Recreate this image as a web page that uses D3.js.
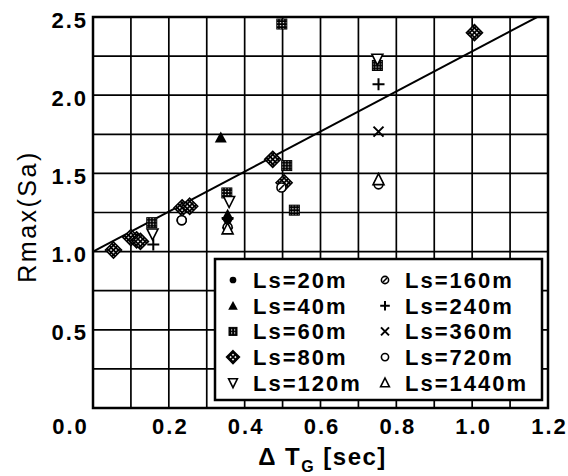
<!DOCTYPE html>
<html>
<head>
<meta charset="utf-8">
<script src="https://cdn.jsdelivr.net/npm/d3@7"></script>
<style>
  body { margin: 0; background: #fff; }
  svg { display: block; }
  text { font-family: "Liberation Sans", Arial, Helvetica, sans-serif; fill: #000; }
</style>
</head>
<body>
<div id="chart"></div>
<script>
// axis ticks
const xTicks = [0.0, 0.2, 0.4, 0.6, 0.8, 1.0, 1.2]
const yTicks = [0.5, 1.0, 1.5, 2.0, 2.5]

// fitted line Rmax = a + b * dT
const fitIntercept = 1.0
const fitSlope = 1.28

// series names and marker kinds (same order)
const seriesNames = ["Ls=20m", "Ls=40m", "Ls=60m", "Ls=80m", "Ls=120m",
                     "Ls=160m", "Ls=240m", "Ls=360m", "Ls=720m", "Ls=1440m"]
const seriesMarks = ["dot", "tri", "sq", "dia", "tridown",
                     "slash", "plus", "cross", "circle", "triup"]

// points [dT, Rmax] per series
const ls20 = [[0.355, 1.20]]
const ls40 = [[0.337, 1.73], [0.355, 1.235]]
const ls60 = [[0.155, 1.185], [0.353, 1.375], [0.498, 2.455], [0.511, 1.55], [0.531, 1.265], [0.750, 2.19]]
const ls80 = [[0.054, 1.01], [0.100, 1.09], [0.115, 1.075], [0.125, 1.065], [0.235, 1.28], [0.255, 1.29],
              [0.474, 1.59], [0.504, 1.44], [1.006, 2.40]]
const ls120 = [[0.157, 1.113], [0.359, 1.32], [0.750, 2.23]]
const ls160 = [[0.234, 1.20], [0.497, 1.41]]
const ls240 = [[0.159, 1.045], [0.355, 1.215], [0.753, 2.07]]
const ls360 = [[0.355, 1.18], [0.753, 1.767]]
const ls720 = [[0.234, 1.20], [0.355, 1.155], [0.753, 1.43]]
const ls1440 = [[0.355, 1.145], [0.753, 1.46]]
const seriesData = [ls20, ls40, ls60, ls80, ls120, ls160, ls240, ls360, ls720, ls1440]

const W = 568, H = 476
const pLeft = 93, pRight = 548, pTop = 17, pBottom = 408

const svg = d3.select("#chart").append("svg").attr("width", W).attr("height", H)

// patterns for the square and diamond markers
const defs = svg.append("defs")
const pDots = defs.append("pattern").attr("id", "pdots").attr("patternUnits", "userSpaceOnUse")
    .attr("width", 3).attr("height", 3)
pDots.append("rect").attr("width", 3).attr("height", 3).attr("fill", "#000")
pDots.append("rect").attr("x", 1).attr("y", 1).attr("width", 1.2).attr("height", 1.2).attr("fill", "#fff")
const pChk = defs.append("pattern").attr("id", "pchk").attr("patternUnits", "userSpaceOnUse")
    .attr("width", 3.4).attr("height", 3.4).attr("patternTransform", "rotate(45)")
pChk.append("rect").attr("width", 3.4).attr("height", 3.4).attr("fill", "#000")
pChk.append("rect").attr("x", 0.9).attr("y", 0.9).attr("width", 1.6).attr("height", 1.6).attr("fill", "#fff")

const x = d3.scaleLinear().domain([0, 1.2]).range([pLeft, pRight])
const y = d3.scaleLinear().domain([0, 2.5]).range([pBottom, pTop])

// grid
const grid = svg.append("g").attr("stroke", "#000").attr("stroke-width", 1.7)
grid.selectAll(".vx").data(x.ticks(12)).join("line")
    .attr("x1", d => x(d)).attr("x2", d => x(d)).attr("y1", pTop).attr("y2", pBottom)
grid.selectAll(".hy").data(d3.range(0, 2.51, 0.25)).join("line")
    .attr("y1", d => y(d)).attr("y2", d => y(d)).attr("x1", pLeft).attr("x2", pRight)

// fitted line, clipped to plot
defs.append("clipPath").attr("id", "clip").append("rect")
    .attr("x", pLeft).attr("y", pTop).attr("width", pRight - pLeft).attr("height", pBottom - pTop)
svg.append("line").attr("clip-path", "url(#clip)")
    .attr("x1", x(0)).attr("y1", y(fitIntercept))
    .attr("x2", x(1.2)).attr("y2", y(fitIntercept + fitSlope * 1.2))
    .attr("stroke", "#000").attr("stroke-width", 2)

// frame
svg.append("rect").attr("x", pLeft).attr("y", pTop).attr("width", pRight - pLeft).attr("height", pBottom - pTop)
    .attr("fill", "none").attr("stroke", "#000").attr("stroke-width", 2.5)

/**
 * Draws one marker of the given kind centred on the origin of g.
 */
function marker(g, kind, s) {
    const k = s || 1
    if(kind === "dot")
        g.append("circle").attr("r", 4.2 * k).attr("fill", "#000")
    else if(kind === "tri")
        g.append("path").attr("d", `M0,${-6*k}L${6*k},${5*k}L${-6*k},${5*k}Z`).attr("fill", "#000")
    else if(kind === "sq")
        g.append("rect").attr("x", -5 * k).attr("y", -5 * k).attr("width", 10 * k).attr("height", 10 * k)
            .attr("fill", "url(#pdots)").attr("stroke", "#000").attr("stroke-width", 1)
    else if(kind === "dia")
        g.append("path").attr("d", `M0,${-8*k}L${8*k},0L0,${8*k}L${-8*k},0Z`)
            .attr("fill", "url(#pchk)").attr("stroke", "#000").attr("stroke-width", 1.6)
    else if(kind === "tridown")
        g.append("path").attr("d", `M${-5.5*k},${-5*k}L${5.5*k},${-5*k}L0,${6*k}Z`)
            .attr("fill", "#fff").attr("stroke", "#000").attr("stroke-width", 1.6)
    else if(kind === "triup")
        g.append("path").attr("d", `M0,${-6*k}L${5.5*k},${5*k}L${-5.5*k},${5*k}Z`)
            .attr("fill", "#fff").attr("stroke", "#000").attr("stroke-width", 1.6)
    else if(kind === "circle")
        g.append("circle").attr("r", 4.5 * k).attr("fill", "#fff").attr("stroke", "#000").attr("stroke-width", 1.6)
    else if(kind === "slash") {
        g.append("circle").attr("r", 4.5 * k).attr("fill", "#fff").attr("stroke", "#000").attr("stroke-width", 1.6)
        g.append("line").attr("x1", -2.5 * k).attr("y1", 2.5 * k).attr("x2", 2.5 * k).attr("y2", -2.5 * k)
            .attr("stroke", "#000").attr("stroke-width", 1.6)
    }
    else if(kind === "plus")
        g.append("path").attr("d", `M${-6*k},0H${6*k}M0,${-6*k}V${6*k}`).attr("stroke", "#000").attr("stroke-width", 2)
    else if(kind === "cross")
        g.append("path").attr("d", `M${-5*k},${-5*k}L${5*k},${5*k}M${-5*k},${5*k}L${5*k},${-5*k}`)
            .attr("stroke", "#000").attr("stroke-width", 2)
}

// data points
const pts = svg.append("g")
seriesData.forEach((arr, i) => {
    pts.selectAll(null).data(arr).join("g")
        .attr("transform", d => `translate(${x(d[0])},${y(d[1])})`)
        .each(function() { marker(d3.select(this), seriesMarks[i]) })
})

// axes labels
const tickFont = g => g.attr("font-size", 22).attr("font-weight", "bold").attr("letter-spacing", 2)
const xAxis = svg.append("g").attr("transform", `translate(0,${pBottom})`)
    .call(d3.axisBottom(x).tickValues(xTicks).tickSize(0).tickPadding(0).tickFormat(d3.format(".1f")))
xAxis.attr("font-family", null)
xAxis.select(".domain").remove()
xAxis.selectAll("text").attr("y", 26).attr("dy", 0).attr("dx", (d, i) => i === 0 ? -23 : (i === xTicks.length - 1 ? 1 : 1))
    .call(tickFont)
const yAxis = svg.append("g").attr("transform", `translate(${pLeft},0)`)
    .call(d3.axisLeft(y).tickValues(yTicks).tickSize(0).tickPadding(0).tickFormat(d3.format(".1f")))
yAxis.attr("font-family", null)
yAxis.select(".domain").remove()
yAxis.selectAll("text").attr("x", -5).attr("dy", 10).call(tickFont)

// axis titles
const xt = svg.append("text").attr("x", (pLeft + pRight) / 2 + 2).attr("y", 465).attr("text-anchor", "middle")
    .attr("font-size", 24).attr("font-weight", "bold").attr("letter-spacing", 1.5)
xt.append("tspan").text("Δ T")
xt.append("tspan").attr("font-size", 16).attr("dy", 7).text("G")
xt.append("tspan").attr("dy", -7).text(" [sec]")

svg.append("text").attr("transform", `translate(36,${(pTop + pBottom) / 2 + 4}) rotate(-90)`)
    .attr("text-anchor", "middle").attr("font-size", 25).attr("letter-spacing", 2.5).text("Rmax(Sa)")

// legend
const lg = svg.append("g")
lg.append("rect").attr("x", 215).attr("y", 259).attr("width", 327).attr("height", 141)
    .attr("fill", "#fff").attr("stroke", "#000").attr("stroke-width", 2.5)
seriesNames.forEach((name, i) => {
    const col = Math.floor(i / 5), row = i % 5
    const mx = col === 0 ? 233 : 385
    const my = 280 + row * 25.7
    marker(lg.append("g").attr("transform", `translate(${mx},${my})`), seriesMarks[i], 0.8)
    lg.append("text").attr("x", mx + 20).attr("y", my + 8).attr("font-size", 22).attr("font-weight", "bold")
        .attr("letter-spacing", 2).text(name)
})
</script>
</body>
</html>
